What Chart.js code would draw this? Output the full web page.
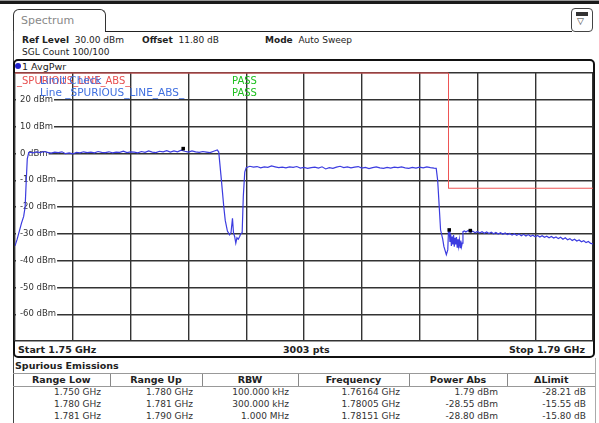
<!DOCTYPE html>
<html>
<head>
<meta charset="utf-8">
<script src="https://cdn.jsdelivr.net/npm/chart.js@4.4.0/dist/chart.umd.min.js"></script>
<style>
  body { margin: 0; width: 599px; height: 423px; overflow: hidden; background: #fff; position: relative; font-family: "DejaVu Sans", sans-serif; color: #222; }
  .abs { position: absolute; white-space: nowrap; }
  #topbar { left: 0; top: 0; width: 599px; height: 3px; background: #1a1a1a; border-top: 1px solid #999; }
  #tab { left: 13px; top: 9px; width: 93px; height: 23px; box-sizing: border-box; border: 1px solid #333; border-bottom: none; border-radius: 6px 6px 0 0; }
  #tabtext { left: 21px; top: 14px; font-size: 11px; color: #888; }
  #tabline { left: 105px; top: 31px; width: 467px; height: 0; border-top: 1.5px solid #222; }
  #leftline { left: 13px; top: 31px; width: 0; height: 392px; border-left: 1px solid #444; }
  #rightline { left: 595px; top: 358px; width: 0; height: 65px; border-left: 1px solid #aaa; }
  #icon { left: 571px; top: 8px; width: 22px; height: 24px; box-sizing: border-box; border: 1px solid #444; border-radius: 4px; background: #fff; }
  #iconbar { left: 576px; top: 12px; width: 12px; height: 4px; background: #333; }
  #icontri { left: 577px; top: 16px; font-size: 9px; color: #333; }
  .hdr { font-size: 9px; top: 35px; }
  .hdr b { font-weight: bold; }
  #frame { left: 13px; top: 59px; width: 582px; height: 299px; box-sizing: border-box; border: 2px solid #111; border-radius: 5px; }
  #avg { left: 22px; top: 61px; font-size: 9.5px; }
  #dot { left: 15px; top: 63px; width: 6px; height: 6px; border-radius: 50%; background: #2222cc; }
  .foot { top: 344px; font-size: 9.5px; font-weight: bold; }
  #spur { left: 15px; top: 360px; font-size: 9.5px; font-weight: bold; }
  #tbl { left: 13px; top: 373px; border-collapse: collapse; table-layout: fixed; font-size: 9px; }
  #tbl th { font-weight: bold; font-size: 9.5px; height: 12px; padding: 0; text-align: center; border-top: 1px solid #999; border-bottom: 1px solid #999; border-left: 1px solid #888; line-height: 12px; }
  #tbl th:first-child { border-left: none; }
  #tbl td { text-align: right; padding: 0 9px 0 0; height: 12px; line-height: 11.5px; color: #333; }
  #wrap { left: 0; top: 0; width: 599px; height: 423px; }
</style>
</head>
<body>
<div class="abs" id="topbar"></div>
<div class="abs" id="tab"></div>
<div class="abs" id="tabtext">Spectrum</div>
<div class="abs" id="tabline"></div>
<div class="abs" id="leftline"></div>
<div class="abs" id="rightline"></div>
<div class="abs" id="icon"></div>
<div class="abs" id="iconbar"></div>
<div class="abs" id="icontri">▽</div>
<div class="abs hdr" style="left:22px"><b>Ref Level</b>&nbsp; 30.00 dBm</div>
<div class="abs hdr" style="left:142px"><b>Offset</b>&nbsp; 11.80 dB</div>
<div class="abs hdr" style="left:265px"><b>Mode</b>&nbsp; Auto Sweep</div>
<div class="abs hdr" style="left:22px;top:47px">SGL Count 100/100</div>
<div class="abs" id="frame"></div>
<div class="abs" id="dot"></div>
<div class="abs" id="avg">1 AvgPwr</div>
<div class="abs foot" id="fstart" style="left:18px"></div>
<div class="abs foot" id="fpts" style="left:283px"></div>
<div class="abs foot" id="fstop" style="right:14px"></div>
<div class="abs" id="spur">Spurious Emissions</div>
<table class="abs" id="tbl"></table>
<div class="abs" id="wrap"><canvas id="spectrum" width="599" height="423"></canvas></div>

<script>
// trace 1 (AvgPwr), frequency in MHz, level in dBm
const freq = [
  1750.00, 1750.15, 1750.30, 1750.45, 1750.60, 1750.70, 1750.78, 1750.85, 1750.95,
  1751.00, 1751.25, 1751.50, 1751.75, 1752.00, 1752.25, 1752.50, 1752.75, 1753.00, 1753.25,
  1753.50, 1753.75, 1754.00, 1754.25, 1754.50, 1754.75, 1755.00, 1755.25, 1755.50, 1755.75,
  1756.00, 1756.25, 1756.50, 1756.75, 1757.00, 1757.25, 1757.50, 1757.75, 1758.00, 1758.25,
  1758.50, 1758.75, 1759.00, 1759.25, 1759.50, 1759.75, 1760.00, 1760.25, 1760.50, 1760.75,
  1761.00, 1761.25, 1761.50, 1761.75, 1762.00, 1762.25, 1762.50, 1762.75, 1763.00, 1763.25,
  1763.50, 1763.75, 1764.00, 1764.10, 1764.25, 1764.35, 1764.45, 1764.55, 1764.70, 1764.85,
  1764.95, 1765.05, 1765.12, 1765.20, 1765.28, 1765.36, 1765.45, 1765.55, 1765.62, 1765.72,
  1765.80, 1765.90, 1766.00,
  1766.25, 1766.50, 1766.75, 1767.00, 1767.25, 1767.50, 1767.75, 1768.00, 1768.25, 1768.50,
  1768.75, 1769.00, 1769.25, 1769.50, 1769.75, 1770.00, 1770.25, 1770.50, 1770.75, 1771.00,
  1771.25, 1771.50, 1771.75, 1772.00, 1772.25, 1772.50, 1772.75, 1773.00, 1773.25, 1773.50,
  1773.75, 1774.00, 1774.25, 1774.50, 1774.75, 1775.00, 1775.25, 1775.50, 1775.75, 1776.00,
  1776.25, 1776.50, 1776.75, 1777.00, 1777.25, 1777.50, 1777.75, 1778.00, 1778.25, 1778.50,
  1778.75, 1779.00, 1779.15, 1779.25, 1779.33, 1779.45, 1779.60, 1779.68, 1779.85, 1779.95,
  1780.00, 1780.05,
  1780.10, 1780.15, 1780.20, 1780.25, 1780.30, 1780.35, 1780.40, 1780.45, 1780.50, 1780.55,
  1780.60, 1780.65, 1780.70, 1780.75, 1780.80, 1780.85, 1780.90, 1780.95, 1781.00, 1781.10,
  1781.20, 1781.36, 1781.52, 1781.68, 1781.84, 1782.00, 1782.16, 1782.32, 1782.48, 1782.64,
  1782.80, 1782.96, 1783.12, 1783.28, 1783.44, 1783.60, 1783.76, 1783.92, 1784.08, 1784.24,
  1784.40, 1784.56, 1784.72, 1784.88, 1785.04, 1785.20, 1785.36, 1785.52, 1785.68, 1785.84,
  1786.00, 1786.16, 1786.32, 1786.48, 1786.64, 1786.80, 1786.96, 1787.12, 1787.28, 1787.44,
  1787.60, 1787.76, 1787.92, 1788.08, 1788.24, 1788.40, 1788.56, 1788.72, 1788.88, 1789.04,
  1789.20, 1789.36, 1789.52, 1789.68, 1789.84, 1790.00
];
const level = [
  -34.5, -32.0, -29.0, -26.0, -23.5, -20.0, -10.0, -2.0, 0.3,
  0.5, 0.2, 0.6, 0.3, 0.7, 0.4, 0.1, 0.5, 0.3, 0.6,
  -0.1, 0.2, -0.2, 0.4, 0.2, 0.6, 0.3, 0.5, 0.2, 0.7,
  0.4, 0.3, 0.6, 0.2, 0.5, 0.4, 0.8, 0.3, 0.6, 0.5,
  0.2, 0.7, 0.4, 0.9, 0.5, 0.3, 0.8, 0.6, 1.0, 0.5,
  0.9, 0.6, 1.2, 0.8, 0.5, 0.9, 0.6, 0.4, 0.7, 0.5,
  0.3, 0.8, 1.3, 0.5, -8.0, -14.0, -20.0, -25.0, -29.0, -30.4,
  -29.5, -24.2, -29.6, -31.0, -33.5, -31.5, -32.0, -31.0, -30.0, -29.6,
  -16.0, -7.0, -5.3,
  -4.8, -5.1, -4.9, -5.4, -5.0, -5.2, -4.7, -5.0, -5.3, -5.1,
  -5.4, -5.0, -5.2, -4.9, -5.5, -5.2, -5.6, -5.3, -5.1, -5.5,
  -5.0, -5.8, -5.3, -5.6, -5.1, -4.8, -5.3, -5.0, -5.4, -5.1,
  -4.9, -5.5, -5.2, -5.7, -5.3, -5.0, -5.4, -5.6, -5.2, -5.5,
  -5.1, -5.3, -5.0, -5.4, -5.6, -5.2, -5.5, -5.1, -5.4, -5.0,
  -5.3, -5.5, -5.6, -10.0, -17.3, -28.5, -32.0, -34.7, -37.8, -36.0,
  -28.8, -28.6,
  -33.0, -30.0, -34.5, -31.0, -34.0, -30.5, -34.8, -31.5, -34.0, -31.2,
  -35.0, -32.0, -34.6, -32.2, -35.2, -32.5, -34.8, -33.5, -29.2, -28.9,
  -29.3, -28.8, -29.4, -29.0, -29.6, -29.1, -29.7, -29.2, -29.8, -29.3,
  -29.9, -29.4, -30.0, -29.5, -30.1, -29.6, -30.2, -29.7, -30.3, -29.9,
  -30.5, -30.0, -30.6, -30.1, -30.7, -30.2, -30.8, -30.3, -30.9, -30.5,
  -31.1, -30.6, -31.2, -30.7, -31.3, -30.9, -31.5, -31.0, -31.6, -31.2,
  -31.8, -31.3, -32.0, -31.5, -32.2, -31.8, -32.5, -32.0, -32.7, -32.3,
  -33.0, -32.6, -33.3, -32.9, -33.6, -33.8
];

// peak markers
const markerFreq = [1761.64, 1780.05, 1781.51];
const markerLevel = [1.79, -28.55, -28.80];

// limit line _SPURIOUS_LINE_ABS_
const limitFreq = [1750, 1780, 1780, 1790];
const limitLevel = [30, 30, -13, -13];

// axis
const yTickValues = [20, 10, 0, -10, -20, -30, -40, -50, -60];
const yTickLabels = ['20 dBm', '10 dBm', '0 dBm', '-10 dBm', '-20 dBm', '-30 dBm', '-40 dBm', '-50 dBm', '-60 dBm'];
const startLabel = 'Start 1.75 GHz';
const stopLabel = 'Stop 1.79 GHz';
const ptsLabel = '3003 pts';

// spurious emissions table
const tableHead = ['Range Low', 'Range Up', 'RBW', 'Frequency', 'Power Abs', '\u0394Limit'];
const rangeLow = ['1.750 GHz', '1.780 GHz', '1.781 GHz'];
const rangeUp = ['1.780 GHz', '1.781 GHz', '1.790 GHz'];
const rbw = ['100.000 kHz', '300.000 kHz', '1.000 MHz'];
const peakFreq = ['1.76164 GHz', '1.78005 GHz', '1.78151 GHz'];
const powerAbs = ['1.79 dBm', '-28.55 dBm', '-28.80 dBm'];
const deltaLimit = ['-28.21 dB', '-15.55 dB', '-15.80 dB'];
const colWidths = [97, 92, 96, 111, 98, 88];

document.getElementById('fstart').textContent = startLabel;
document.getElementById('fstop').textContent = stopLabel;
document.getElementById('fpts').textContent = ptsLabel;

let html = '<colgroup>' + colWidths.map(w => '<col style="width:' + w + 'px">').join('') + '</colgroup>';
html += '<tr>' + tableHead.map(h => '<th>' + h + '</th>').join('') + '</tr>';
for (let i = 0; i < rangeLow.length; i++) {
  html += '<tr><td>' + rangeLow[i] + '</td><td>' + rangeUp[i] + '</td><td>' + rbw[i] + '</td><td>' +
    peakFreq[i] + '</td><td>' + powerAbs[i] + '</td><td>' + deltaLimit[i] + '</td></tr>';
}
const tbl = document.getElementById('tbl');
tbl.innerHTML = html;
tbl.style.width = colWidths.reduce((a, b) => a + b, 0) + 'px';

const toPoints = (xs, ys) => xs.map((x, i) => ({ x: x, y: ys[i] }));

// y labels with white box and the limit check texts, under the traces
const plotText = {
  id: 'plotText',
  beforeDatasetsDraw(chart) {
    const ctx = chart.ctx;
    const a = chart.chartArea;
    const ys = chart.scales.y;
    ctx.save();
    ctx.textBaseline = 'middle';
    ctx.font = '8.5px "DejaVu Sans"';
    for (let i = 0; i < yTickValues.length; i++) {
      const py = ys.getPixelForValue(yTickValues[i]);
      const w = ctx.measureText(yTickLabels[i]).width;
      ctx.fillStyle = '#fff';
      ctx.fillRect(a.left + 1, py - 3, w + 5, 6);
      ctx.fillStyle = '#333';
      ctx.fillText(yTickLabels[i], a.left + 5, py);
    }
    ctx.font = '10px "DejaVu Sans"';
    ctx.fillStyle = '#e85050';
    ctx.fillText('_SPURIOUS_LINE_ABS_', a.left + 2, 81);
    ctx.font = '10.5px "DejaVu Sans"';
    ctx.fillStyle = '#4070e0';
    ctx.fillText('Limit Check', a.left + 25, 81);
    ctx.fillText('Line _SPURIOUS_LINE_ABS_', a.left + 25, 93);
    ctx.font = '10px "DejaVu Sans"';
    ctx.fillStyle = '#20c020';
    ctx.fillText('PASS', 232, 81);
    ctx.fillText('PASS', 232, 93);
    ctx.restore();
  }
};

const ctx = document.getElementById('spectrum').getContext('2d');
const spectrumChart = new Chart(ctx, {
  type: 'scatter',
  data: {
    datasets: [{
        label: 'Marker',
        data: toPoints(markerFreq, markerLevel),
        pointStyle: 'rect',
        pointRadius: 2.5,
        backgroundColor: '#000',
        borderColor: '#000',
        borderWidth: 0,
        showLine: false
      },
      {
        label: '1 AvgPwr',
        data: toPoints(freq, level),
        showLine: true,
        borderColor: '#3c3ce0',
        borderWidth: 1.2,
        pointRadius: 0,
        tension: 0
      },
      {
        label: '_SPURIOUS_LINE_ABS_',
        data: toPoints(limitFreq, limitLevel),
        showLine: true,
        borderColor: '#ee5555',
        borderWidth: 1,
        pointRadius: 0,
        tension: 0,
        clip: false
      }
    ]
  },
  options: {
    responsive: false,
    animation: false,
    events: [],
    layout: {
      padding: { left: 15, right: 6, top: 73, bottom: 82 }
    },
    scales: {
      x: {
        type: 'linear',
        min: 1750,
        max: 1790,
        ticks: { display: false, stepSize: 4 },
        grid: { color: '#333', lineWidth: 1.4, drawTicks: false },
        border: { display: false }
      },
      y: {
        type: 'linear',
        min: -70,
        max: 30,
        ticks: { display: false, stepSize: 10 },
        grid: { color: '#333', lineWidth: 1.4, drawTicks: false },
        border: { display: false }
      }
    },
    plugins: {
      legend: false,
      tooltip: { enabled: false },
      title: { display: false }
    }
  },
  plugins: [plotText]
});
</script>
</body>
</html>
